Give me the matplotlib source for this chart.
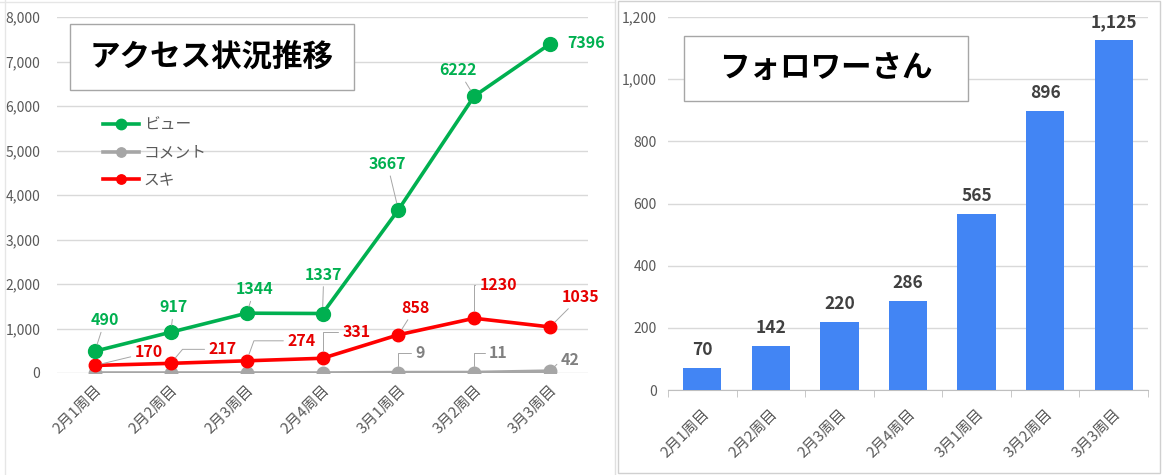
import matplotlib
matplotlib.use("Agg")
import matplotlib.pyplot as plt
from matplotlib.patches import Rectangle
from matplotlib.lines import Line2D
from matplotlib.ticker import FuncFormatter, FixedLocator

plt.rcParams['font.family'] = ['Noto Sans CJK JP', 'DejaVu Sans']

# ---------------- data ----------------
weeks = ["2月1周目", "2月2周目", "2月3周目", "2月4周目", "3月1周目", "3月2周目", "3月3周目"]
views = [490, 917, 1344, 1337, 3667, 6222, 7396]
comments = [0, 0, 0, 0, 9, 11, 42]
likes = [170, 217, 274, 331, 858, 1230, 1035]
followers = [70, 142, 220, 286, 565, 896, 1125]

left_title = "アクセス状況推移"
right_title = "フォロワーさん"
series_names = ["ビュー", "コメント", "スキ"]

GREEN = "#00b050"
GREY = "#a6a6a6"
RED = "#ff0000"
BLUE = "#4285f4"
TXT = "#595959"
GRID = "#d9d9d9"

W, H = 1163, 475
fig = plt.figure(figsize=(W / 100, H / 100), dpi=100)
fig.patch.set_facecolor("white")

def fx(px):
    return px / W

def fy(py):
    return 1 - py / H

# faint sheet/chart borders
fig.add_artist(Line2D([fx(5), fx(5)], [fy(0), fy(475)], color="#e6e6e6", lw=1))
fig.add_artist(Line2D([fx(0), fx(615)], [fy(2), fy(2)], color="#e6e6e6", lw=1))
fig.add_artist(Line2D([fx(615), fx(615)], [fy(0), fy(475)], color="#e0e0e0", lw=1))
fig.add_artist(Rectangle((fx(618), fy(473)), fx(1160) - fx(618), fy(1) - fy(473),
                         transform=fig.transFigure, fill=False, ec="#d0d0d0", lw=1))

# ---------------- left chart ----------------
axL = fig.add_axes([fx(57), fy(373), fx(588) - fx(57), fy(17) - fy(373)])
x = list(range(len(weeks)))
axL.plot(x, comments, color=GREY, lw=2.6, marker="o", ms=9, zorder=3, label=series_names[1])
axL.plot(x, likes, color=RED, lw=2.6, marker="o", ms=9, zorder=4, label=series_names[2])
axL.plot(x, views, color=GREEN, lw=2.6, marker="o", ms=10, zorder=5, label=series_names[0])
axL.set_xlim(-0.5, len(weeks) - 0.5)
axL.set_ylim(0, 8000)
axL.set_yticks(range(0, 8001, 1000))
axL.yaxis.set_major_formatter(FuncFormatter(lambda v, p: f"{int(v):,}"))
axL.grid(axis="y", color=GRID, lw=1)
axL.set_axisbelow(True)
for s in axL.spines.values():
    s.set_visible(False)
axL.tick_params(axis="y", length=0, pad=12, labelsize=10, labelcolor=TXT)
axL.tick_params(axis="x", length=0, pad=7, labelsize=10.8, labelcolor=TXT)
axL.set_xticks(x)
axL.set_xticklabels(weeks, rotation=45, ha="right", va="top", rotation_mode="anchor")

P = 0.72  # px -> pt

def lab(ax, xi, yi, text, dx, dy, color, conn="arc3", size=11.5, relpos=(0.5, 0.5)):
    ax.annotate(text, (xi, yi), xytext=(dx * P, dy * P), textcoords="offset points",
                ha="center", va="center", fontsize=size, fontweight="bold", color=color,
                zorder=10,
                arrowprops=dict(arrowstyle="-", color="#a6a6a6", lw=0.7,
                                shrinkA=1, shrinkB=5, connectionstyle=conn, relpos=relpos))

# view labels
g_off = [(10, 31), (3, 25), (8, 24), (1, 39), (-11, 46), (-16, 26), (36, 1)]
for i, v in enumerate(views):
    dx, dy = g_off[i]
    if i == 6:
        axL.annotate(str(v), (i, v), xytext=(dx * P, dy * P), textcoords="offset points",
                     ha="center", va="center", fontsize=11.5, fontweight="bold", color=GREEN)
    elif i == 3:
        lab(axL, i, v, str(v), dx, dy, GREEN, relpos=(0.5, 0.0))
    else:
        lab(axL, i, v, str(v), dx, dy, GREEN)

# like labels
r_off = [(54, 13), (52, 14), (55, 20), (34, 26), (17, 27), (24, 33), (30, 30)]
r_conn = ["arc3", "angle,angleA=0,angleB=50,rad=0", "angle,angleA=0,angleB=70,rad=0",
          "angle,angleA=0,angleB=90,rad=0", "arc3", "angle,angleA=0,angleB=90,rad=0", "arc3"]
r_rel = [(0.5, 0.5), (0.0, 0.5), (0.0, 0.5), (0.0, 0.5), (0.5, 0.5), (0.0, 0.5), (0.5, 0.5)]
for i, v in enumerate(likes):
    dx, dy = r_off[i]
    lab(axL, i, v, str(v), dx, dy, "#e60000", conn=r_conn[i], relpos=r_rel[i])

# comment labels (only non-zero shown)
c_off = {4: (22, 20), 5: (24, 20), 6: (20, 11)}
c_conn = {4: "angle,angleA=0,angleB=90,rad=0", 5: "angle,angleA=0,angleB=90,rad=0",
          6: "angle,angleA=0,angleB=45,rad=0"}
for i, v in enumerate(comments):
    if i in c_off:
        dx, dy = c_off[i]
        lab(axL, i, v, str(v), dx, dy, "#808080", conn=c_conn[i], relpos=(0.0, 0.5))

leg = axL.legend(handles=[axL.lines[2], axL.lines[0], axL.lines[1]],
                 labels=series_names, loc="upper left", bbox_to_anchor=(0.075, 0.738),
                 frameon=False, fontsize=11.3, labelcolor=TXT, handlelength=2.3,
                 handletextpad=0.3, labelspacing=0.68, borderaxespad=0, markerscale=0.75)

# title boxes
fig.add_artist(Rectangle((fx(70), fy(90)), fx(354) - fx(70), fy(24) - fy(90),
                         transform=fig.transFigure, fc="white", ec="#a6a6a6", lw=1, zorder=20))
fig.text(fx(212), fy(57), left_title, ha="center", va="center", fontsize=22,
         fontweight="bold", color="black", zorder=21)

# ---------------- right chart ----------------
axR = fig.add_axes([fx(668), fy(390), fx(1148) - fx(668), fy(17) - fy(390)])
axR.bar(x, followers, width=0.56, color=BLUE, zorder=3)
axR.set_xlim(-0.5, len(weeks) - 0.5)
axR.set_ylim(0, 1200)
axR.set_yticks(range(0, 1201, 200))
axR.yaxis.set_major_formatter(FuncFormatter(lambda v, p: f"{int(v):,}"))
axR.grid(axis="y", color=GRID, lw=1)
axR.set_axisbelow(True)
for k in ["top", "right", "left"]:
    axR.spines[k].set_visible(False)
axR.spines["bottom"].set_color("#bfbfbf")
axR.tick_params(axis="y", length=0, pad=8, labelsize=10, labelcolor=TXT)
axR.set_xticks(x)
axR.set_xticklabels(weeks, rotation=45, ha="right", va="top", rotation_mode="anchor")
axR.tick_params(axis="x", which="major", length=0, pad=12, labelsize=10.8, labelcolor=TXT)
axR.xaxis.set_minor_locator(FixedLocator([i - 0.5 for i in range(len(weeks) + 1)]))
axR.tick_params(axis="x", which="minor", length=5, color="#bfbfbf")
for i, v in enumerate(followers):
    axR.annotate(f"{v:,}", (i, v), xytext=(0, 18 * P), textcoords="offset points",
                 ha="center", va="center", fontsize=12.5, fontweight="bold", color="#404040")

fig.add_artist(Rectangle((fx(684), fy(101)), fx(968) - fx(684), fy(36) - fy(101),
                         transform=fig.transFigure, fc="white", ec="#a6a6a6", lw=1, zorder=20))
fig.text(fx(826), fy(68), right_title, ha="center", va="center", fontsize=22,
         fontweight="bold", color="black", zorder=21)

fig.savefig("out.png", dpi=100, facecolor="white")
